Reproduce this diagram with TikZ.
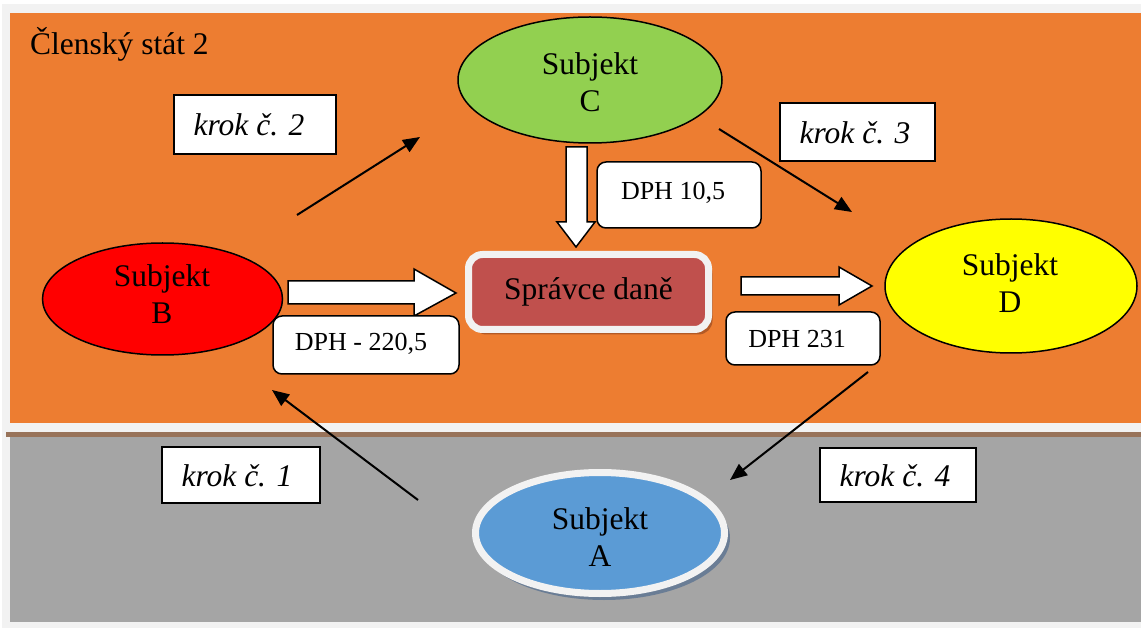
\documentclass[tikz,border=0pt]{standalone}
\usepackage{fontspec}
\setmainfont{Liberation Serif}
\usetikzlibrary{shapes.geometric,arrows.meta}
\definecolor{orangebg}{HTML}{ED7D31}
\definecolor{graybg}{HTML}{A5A5A5}
\definecolor{lightgr}{HTML}{F2F2F2}
\definecolor{brownband}{HTML}{98735A}
\definecolor{greenC}{HTML}{92D050}
\definecolor{redB}{HTML}{FF0000}
\definecolor{yellowD}{HTML}{FFFF00}
\definecolor{blueA}{HTML}{5B9BD5}
\definecolor{shadowA}{HTML}{6A7D95}
\definecolor{spravce}{HTML}{C0504D}
\definecolor{shadowS}{HTML}{B35A26}
\begin{document}
\begin{tikzpicture}[x=1pt,y=-1pt,
  subj/.style={ellipse,draw=black,line width=1.5pt,inner sep=0pt},
  bigtxt/.style={align=center,font=\fontsize{31.5}{37}\selectfont,inner sep=0pt},
  krokbox/.style={draw=black,fill=white,line width=1.8pt,inner sep=0pt},
  kroktxt/.style={font=\fontsize{31.5}{37}\selectfont\itshape,inner sep=0pt},
  dphbox/.style={draw=black,fill=white,line width=1.5pt,rounded corners=9pt,inner sep=0pt},
  dphtxt/.style={font=\fontsize{26}{30}\selectfont,inner sep=0pt},
  conn/.style={draw=black,line width=2pt,-{Triangle[length=17pt,width=14pt]}},
  blockarrow/.style={draw=black,fill=white,line width=1.5pt,line join=miter}]
\useasboundingbox (0,0) rectangle (1141,628);
% backgrounds
\fill[white] (0,0) rectangle (1141,628);
\fill[lightgr] (2,4) rectangle (1141,628);
\fill[orangebg] (10,13) rectangle (1141,423);
\fill[brownband] (6,432) rectangle (1141,437);
\fill[graybg] (10,437) rectangle (1141,622);
\node[anchor=base west,font=\fontsize{31.5}{37}\selectfont,inner sep=0pt] (title) at (30,55) {Členský stát 2};

% ellipses
\node[subj,fill=greenC,minimum width=264pt,minimum height=126pt] (C) at (590,80) {};
\node[bigtxt] (Ct) at (590,82) {Subjekt\\C};
\node[subj,fill=redB,minimum width=240pt,minimum height=112pt] (B) at (162.5,299) {};
\node[bigtxt] (Bt) at (162,294) {Subjekt\\B};
\node[subj,fill=yellowD,minimum width=252pt,minimum height=134pt] (D) at (1011,286) {};
\node[bigtxt] (Dt) at (1010,283) {Subjekt\\D};
% Subjekt A
\node[ellipse,fill=shadowA,minimum width=252pt,minimum height=124pt,inner sep=0pt] (Ash) at (604,538) {};
\node[ellipse,fill=blueA,draw=lightgr,line width=7pt,minimum width=249pt,minimum height=121pt,inner sep=0pt] (A) at (600,533) {};
\node[bigtxt] (At) at (600,537) {Subjekt\\A};

% Spravce dane
\fill[shadowS,rounded corners=14pt] (472.5,259.5) rectangle (712.5,334.5);
\draw[fill=spravce,draw=lightgr,line width=7pt,rounded corners=14pt] (468.5,254.5) rectangle (708.5,329.5);
\node[bigtxt] (S) at (588.5,292) {Správce daně};

% block arrows
\draw[blockarrow] (288,281) -- (414,281) -- (414,269) -- (456,293) -- (414,316) -- (414,304) -- (288,304) -- cycle;
\draw[blockarrow] (741,277) -- (839,277) -- (839,267) -- (872,286) -- (839,305) -- (839,295) -- (741,295) -- cycle;
\draw[blockarrow] (566,147) -- (587,147) -- (587,222) -- (595,222) -- (576,247) -- (557,222) -- (566,222) -- cycle;

% DPH boxes
\node[dphbox,minimum width=164pt,minimum height=66pt] (d1) at (679,195) {};
\node[dphtxt] at (673,193) {DPH 10,5};
\node[dphbox,minimum width=186pt,minimum height=58pt] (d2) at (366,345) {};
\node[dphtxt] at (361,344) {DPH - 220,5};
\node[dphbox,minimum width=154pt,minimum height=53pt] (d3) at (803,338.5) {};
\node[dphtxt] at (797,339) {DPH 231};

% krok boxes
\node[krokbox,minimum width=162pt,minimum height=59pt] (k2) at (255,124.5) {};
\node[kroktxt] at (249,125) {krok č. 2};
\node[krokbox,minimum width=155pt,minimum height=58pt] (k3) at (857.5,132) {};
\node[kroktxt] at (855,133) {krok č. 3};
\node[krokbox,minimum width=158pt,minimum height=56pt] (k1) at (241,475) {};
\node[kroktxt] at (237,476) {krok č. 1};
\node[krokbox,minimum width=156pt,minimum height=54pt] (k4) at (898,475) {};
\node[kroktxt] at (895,476) {krok č. 4};

% line arrows
\coordinate (k2s) at (297,215); \coordinate (k2e) at (420,137);
\coordinate (k3s) at (719,129); \coordinate (k3e) at (852,212);
\coordinate (k4s) at (868,372); \coordinate (k4e) at (730,480);
\coordinate (k1s) at (418,500); \coordinate (k1e) at (272,390);
\draw[conn] (k2s) -- (k2e);
\draw[conn] (k3s) -- (k3e);
\draw[conn] (k4s) -- (k4e);
\draw[conn] (k1s) -- (k1e);
\end{tikzpicture}
\end{document}
